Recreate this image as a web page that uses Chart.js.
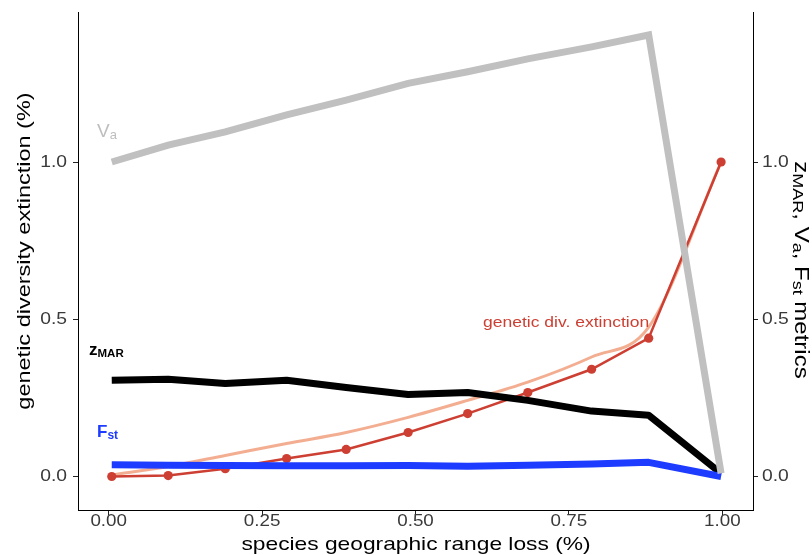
<!DOCTYPE html>
<html>
<head>
<meta charset="utf-8">
<script src="https://cdn.jsdelivr.net/npm/chart.js@4"></script>
<style>
html,body{margin:0;padding:0;background:#fff;}
#wrap{width:812px;height:555px;position:relative;}
</style>
</head>
<body>
<div id="wrap"><canvas id="c" width="812" height="555"></canvas></div>
<script>
// ---- data ----
const rangeLoss   = [0.005, 0.097, 0.19, 0.29, 0.387, 0.488, 0.585, 0.683, 0.787, 0.88, 0.998];
const geneticExt  = [0.0, 0.003, 0.025, 0.057, 0.086, 0.14, 0.20, 0.267, 0.341, 0.44, 1.0];
const geneticFit  = [0.005, 0.032, 0.067, 0.105, 0.14, 0.188, 0.242, 0.30, 0.38, 0.475, 1.0];
const zMAR        = [0.306, 0.309, 0.296, 0.306, 0.283, 0.261, 0.267, 0.242, 0.208, 0.195, 0.01];
const Fst         = [0.037, 0.036, 0.035, 0.034, 0.034, 0.035, 0.033, 0.036, 0.040, 0.045, 0.0];
const Va          = [1.0, 1.054, 1.096, 1.15, 1.197, 1.25, 1.287, 1.328, 1.366, 1.404, 0.01];
const xTicks      = [0, 0.25, 0.5, 0.75, 1.0];
const yTicks      = [0, 0.5, 1.0];
const xTickLabels = ["0.00", "0.25", "0.50", "0.75", "1.00"];
const yTickLabels = ["0.0", "0.5", "1.0"];

const pts = arr => arr.map((v, i) => ({x: rangeLoss[i], y: v}));

const FONT = '"Liberation Sans", Arial, Helvetica, sans-serif';

function drawParts(ctx, parts, x, y, o) {
  ctx.save();
  ctx.translate(x, y);
  ctx.rotate(o.rot || 0);
  ctx.scale(o.sx || 1, 1);
  ctx.textBaseline = o.baseline || 'alphabetic';
  ctx.textAlign = 'left';
  let w = 0;
  parts.forEach(p => { ctx.font = (p.weight || '') + ' ' + p.size + 'px ' + FONT; w += ctx.measureText(p.t).width; });
  let cx = o.align === 'center' ? -w / 2 : (o.align === 'right' ? -w : 0);
  parts.forEach(p => {
    ctx.font = (p.weight || '') + ' ' + p.size + 'px ' + FONT;
    ctx.fillStyle = p.color || o.color;
    ctx.fillText(p.t, cx, p.dy || 0);
    cx += ctx.measureText(p.t).width;
  });
  ctx.restore();
}

const textPlugin = {
  id: 'texts',
  afterDraw(chart) {
    const ctx = chart.ctx;
    const xs = chart.scales.x, yl = chart.scales.y, yr = chart.scales.y2;
    const tc = '#3a3a3a';
    // tick labels
    yTicks.forEach((v, i) => {
      drawParts(ctx, [{t: yTickLabels[i], size: 16.5}], 67, yl.getPixelForValue(v), {align: 'right', baseline: 'middle', sx: 1.17, color: tc});
      drawParts(ctx, [{t: yTickLabels[i], size: 16.5}], 762, yr.getPixelForValue(v), {align: 'left', baseline: 'middle', sx: 1.17, color: tc});
    });
    xTicks.forEach((v, i) => {
      drawParts(ctx, [{t: xTickLabels[i], size: 16.5}], xs.getPixelForValue(v), 521, {align: 'center', baseline: 'middle', sx: 1.14, color: tc});
    });
    // axis titles
    drawParts(ctx, [{t: 'species geographic range loss (%)', size: 18.5}], 416, 545, {align: 'center', baseline: 'middle', sx: 1.23, color: '#000'});
    drawParts(ctx, [{t: 'genetic diversity extinction (%)', size: 18.5}], 25, 251, {align: 'center', baseline: 'middle', sx: 1.27, rot: -Math.PI / 2, color: '#000'});
    drawParts(ctx, [
      {t: 'z', size: 20},
      {t: 'MAR', size: 15, dy: 4},
      {t: ', V', size: 20},
      {t: 'a', size: 15, dy: 4},
      {t: ', F', size: 20},
      {t: 'st', size: 15, dy: 4},
      {t: ' metrics', size: 20}
    ], 801, 270, {align: 'center', baseline: 'middle', sx: 1.2, rot: Math.PI / 2, color: '#000'});
    // in-plot labels
    drawParts(ctx, [{t: 'V', size: 19}, {t: 'a', size: 13, dy: 2}], 97, 137, {color: '#BEBEBE'});
    drawParts(ctx, [{t: 'z', size: 17, weight: 'bold'}, {t: 'MAR', size: 11.5, weight: 'bold', dy: 2}], 89, 355, {color: '#000'});
    drawParts(ctx, [{t: 'F', size: 17, weight: 'bold'}, {t: 'st', size: 12, weight: 'bold', dy: 2}], 97, 437, {color: '#1E3CFF'});
    drawParts(ctx, [{t: 'genetic div. extinction', size: 15.5}], 483, 327, {sx: 1.13, color: '#CD3F32'});
  }
};

const fixedTicks = vals => function (scale) { scale.ticks = vals.map(v => ({value: v})); };
const axisBase = {
  border: {display: true, color: '#000', width: 1},
  grid: {display: true, drawOnChartArea: false, drawTicks: true, tickLength: 5, color: '#222', lineWidth: 1},
  ticks: {display: false}
};

new Chart(document.getElementById('c'), {
  type: 'line',
  data: {
    datasets: [
      {label: 'Va', data: pts(Va), borderColor: '#C0C0C0', borderWidth: 7, pointRadius: 0, borderJoinStyle: 'miter', borderCapStyle: 'butt', order: 1, yAxisID: 'y2'},
      {label: 'Fst', data: pts(Fst), borderColor: '#1E3CFF', borderWidth: 7, pointRadius: 0, borderJoinStyle: 'round', order: 2, yAxisID: 'y2'},
      {label: 'zMAR', data: pts(zMAR), borderColor: '#000000', borderWidth: 7, pointRadius: 0, borderJoinStyle: 'round', order: 3, yAxisID: 'y2'},
      {label: 'genetic div. extinction', data: pts(geneticExt), borderColor: '#CD3F32', backgroundColor: '#CD3F32', borderWidth: 2.5, pointRadius: 4.6, pointBorderWidth: 0, order: 4, yAxisID: 'y'},
      {label: 'fit', data: pts(geneticFit), borderColor: '#F3AE92', borderWidth: 3, pointRadius: 0, cubicInterpolationMode: 'monotone', order: 5, yAxisID: 'y'}
    ]
  },
  options: {
    responsive: false,
    animation: false,
    devicePixelRatio: 1,
    layout: {padding: {top: 12, left: 0, right: 0, bottom: 0}},
    plugins: {legend: {display: false}, tooltip: {enabled: false}},
    scales: {
      x: Object.assign({}, axisBase, {type: 'linear', position: 'bottom', min: -0.05, max: 1.05,
        afterBuildTicks: fixedTicks(xTicks), afterFit(s) { s.height = 45; }}),
      y: Object.assign({}, axisBase, {type: 'linear', position: 'left', min: -0.1065, max: 1.477,
        afterBuildTicks: fixedTicks(yTicks), afterFit(s) { s.width = 78; }}),
      y2: Object.assign({}, axisBase, {type: 'linear', position: 'right', min: -0.1065, max: 1.477,
        afterBuildTicks: fixedTicks(yTicks), afterFit(s) { s.width = 59; }})
    }
  },
  plugins: [textPlugin]
});
</script>
</body>
</html>
